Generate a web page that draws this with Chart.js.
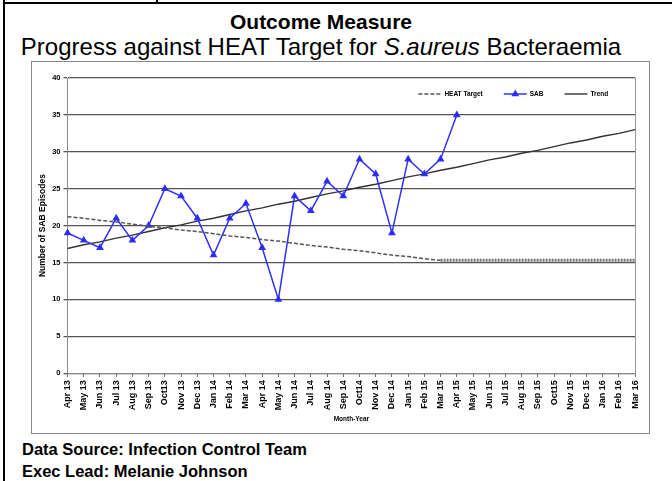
<!DOCTYPE html>
<html>
<head>
<meta charset="utf-8">
<script src="https://cdn.jsdelivr.net/npm/chart.js@4"></script>
<style>
  body { margin: 0; background: #fff; width: 672px; height: 481px; position: relative; overflow: hidden; font-family: "Liberation Sans", Arial, sans-serif; }
  .rule-top { position: absolute; left: 3px; right: 0; top: 2px; height: 2px; background: #000; }
  .rule-left { position: absolute; left: 3px; top: 0; bottom: 0; width: 2px; background: #000; }
  .rule-div { position: absolute; left: 156px; top: 0; height: 4px; width: 2px; background: #000; }
  .title { position: absolute; left: 0; width: 642px; text-align: center; top: 10px; font-weight: bold; font-size: 21px; }
  .subtitle { position: absolute; left: 0; width: 642px; text-align: center; top: 33px; font-size: 24px; white-space: nowrap; }
  .frame { position: absolute; left: 31px; top: 61px; width: 617px; height: 371px; border: 1px solid #888; }
  .foot { position: absolute; left: 22px; font-weight: bold; font-size: 16.5px; }
</style>
</head>
<body>
<div class="rule-top"></div>
<div class="rule-left"></div>
<div class="rule-div"></div>
<div class="title">Outcome Measure</div>
<div class="subtitle">Progress against HEAT Target for <i>S.aureus</i> Bacteraemia</div>
<div class="frame"><canvas id="myChart" width="617" height="371"></canvas></div>
<div class="foot" style="top:440px">Data Source: Infection Control Team</div>
<div class="foot" style="top:462px">Exec Lead: Melanie Johnson</div>
<script>
var months = ['Apr 13', 'May 13', 'Jun 13', 'Jul 13', 'Aug 13', 'Sep 13', 'Oct13', 'Nov 13', 'Dec 13',
  'Jan 14', 'Feb 14', 'Mar 14', 'Apr 14', 'May 14', 'Jun 14', 'Jul 14', 'Aug 14', 'Sep 14', 'Oct14', 'Nov 14', 'Dec 14',
  'Jan 15', 'Feb 15', 'Mar 15', 'Apr 15', 'May 15', 'Jun 15', 'Jul 15', 'Aug 15', 'Sep 15', 'Oct15', 'Nov 15', 'Dec 15',
  'Jan 16', 'Feb 16', 'Mar 16'];

// monthly SAB episodes (Apr 13 - Apr 15)
var sab = [19, 18, 17, 21, 18, 20, 25, 24, 21, 16, 21, 23, 17, 10, 24, 22, 26, 24, 29, 27, 19, 29, 27, 29, 35,
  null, null, null, null, null, null, null, null, null, null, null];

var heatTarget = [21.2, 21.0, 20.7, 20.5, 20.2, 19.9, 19.7, 19.4, 19.2, 18.9, 18.6, 18.4, 18.1, 17.9, 17.6, 17.3,
  17.1, 16.8, 16.6, 16.3, 16.0, 15.8, 15.5, 15.3, 15.3, 15.3, 15.3, 15.3, 15.3, 15.3, 15.3, 15.3, 15.3, 15.3, 15.3, 15.3];

var trend = [16.9, 17.4, 17.8, 18.3, 18.7, 19.2, 19.7, 20.1, 20.6, 21.0, 21.5, 22.0, 22.4, 22.9, 23.3, 23.8,
  24.3, 24.7, 25.2, 25.6, 26.1, 26.6, 27.0, 27.5, 27.9, 28.4, 28.9, 29.3, 29.8, 30.2, 30.7, 31.2, 31.6, 32.1, 32.5, 33.0];

var yTicks = [0, 5, 10, 15, 20, 25, 30, 35, 40];

var fam = '"Liberation Sans", Arial';
var xTickFont = { family: fam, size: 9, weight: 'bold' };
var yTickFont = { family: fam, size: 7.5, weight: 'bold' };
var yTitleFont = { family: fam, size: 8.5, weight: 'bold' };
var smallFont = { family: fam, size: 6.5, weight: 'bold' };

// legend drawn inside the plot, top right (like the Excel original)
var innerLegend = {
  id: 'innerLegend',
  afterDraw: function (chart) {
    var c = chart.ctx, area = chart.chartArea;
    var y = area.top + 16;
    var lineLen = 23, gap = 3, itemGap = 21;
    c.save();
    c.font = 'bold 6.5px ' + fam;
    var sets = chart.data.datasets;
    var total = 0;
    sets.forEach(function (ds, i) {
      total += lineLen + gap + c.measureText(ds.label).width + (i < sets.length - 1 ? itemGap : 0);
    });
    var x = area.right - 27 - total;
    sets.forEach(function (ds) {
      c.strokeStyle = ds.borderColor;
      c.lineWidth = ds.borderWidth;
      c.setLineDash(ds.borderDash || []);
      c.beginPath();
      c.moveTo(x, y);
      c.lineTo(x + lineLen, y);
      c.stroke();
      c.setLineDash([]);
      if (ds.pointRadius) {
        c.fillStyle = ds.backgroundColor;
        Chart.helpers.drawPoint(c, { pointStyle: ds.pointStyle, radius: ds.pointRadius, rotation: 0, borderWidth: 1 }, x + lineLen / 2, y);
      }
      c.fillStyle = '#000';
      c.textBaseline = 'middle';
      c.fillText(ds.label, x + lineLen + gap, y);
      x += lineLen + gap + c.measureText(ds.label).width + itemGap;
    });
    c.restore();
  }
};

var ctx = document.getElementById('myChart').getContext('2d');
var chart = new Chart(ctx, {
  type: 'line',
  data: {
    labels: months,
    datasets: [{
      label: 'HEAT Target',
      data: heatTarget,
      borderColor: '#555',
      backgroundColor: '#555',
      borderWidth: 1.5,
      borderDash: [4, 2],
      pointRadius: 0,
      fill: false,
      segment: {
        // flat part of the target is drawn as a heavier dotted band
        borderWidth: function (s) { return s.p0.parsed.y === s.p1.parsed.y ? 3 : undefined; },
        borderDash: function (s) { return s.p0.parsed.y === s.p1.parsed.y ? [2, 1] : undefined; },
        borderColor: function (s) { return s.p0.parsed.y === s.p1.parsed.y ? '#777' : undefined; }
      }
    }, {
      label: 'SAB',
      data: sab,
      borderColor: '#3030ff',
      backgroundColor: '#2020ff',
      borderWidth: 1.5,
      pointStyle: 'triangle',
      pointRadius: 3,
      fill: false
    }, {
      label: 'Trend',
      data: trend,
      borderColor: '#333',
      backgroundColor: '#333',
      borderWidth: 1.4,
      pointRadius: 0,
      fill: false
    }]
  },
  options: {
    responsive: false,
    animation: false,
    layout: { padding: { left: 5, right: 0, top: 16, bottom: 8 } },
    plugins: {
      legend: { display: false },
      tooltip: { enabled: false }
    },
    scales: {
      x: {
        offset: false,
        grid: { drawOnChartArea: false, color: '#777', tickLength: 4 },
        border: { color: '#888' },
        ticks: { font: xTickFont, color: '#000', maxRotation: 90, minRotation: 90, autoSkip: false, padding: 3 },
        title: { display: true, text: 'Month-Year', font: smallFont, color: '#000', padding: { top: 2, bottom: 2 } }
      },
      y: {
        min: 0,
        max: 40,
        afterBuildTicks: function (axis) { axis.ticks = yTicks.map(function (v) { return { value: v }; }); },
        grid: { color: '#555', lineWidth: 1.3, tickLength: 4 },
        border: { color: '#888' },
        ticks: { font: yTickFont, color: '#000', padding: 3 },
        title: { display: true, text: 'Number of SAB Episodes', font: yTitleFont, color: '#000', padding: 1 }
      },
      y2: {
        position: 'right',
        min: 0,
        max: 40,
        grid: { display: false, drawTicks: false },
        ticks: { display: false },
        border: { color: '#999' }
      }
    }
  },
  plugins: [innerLegend]
});
</script>
</body>
</html>
